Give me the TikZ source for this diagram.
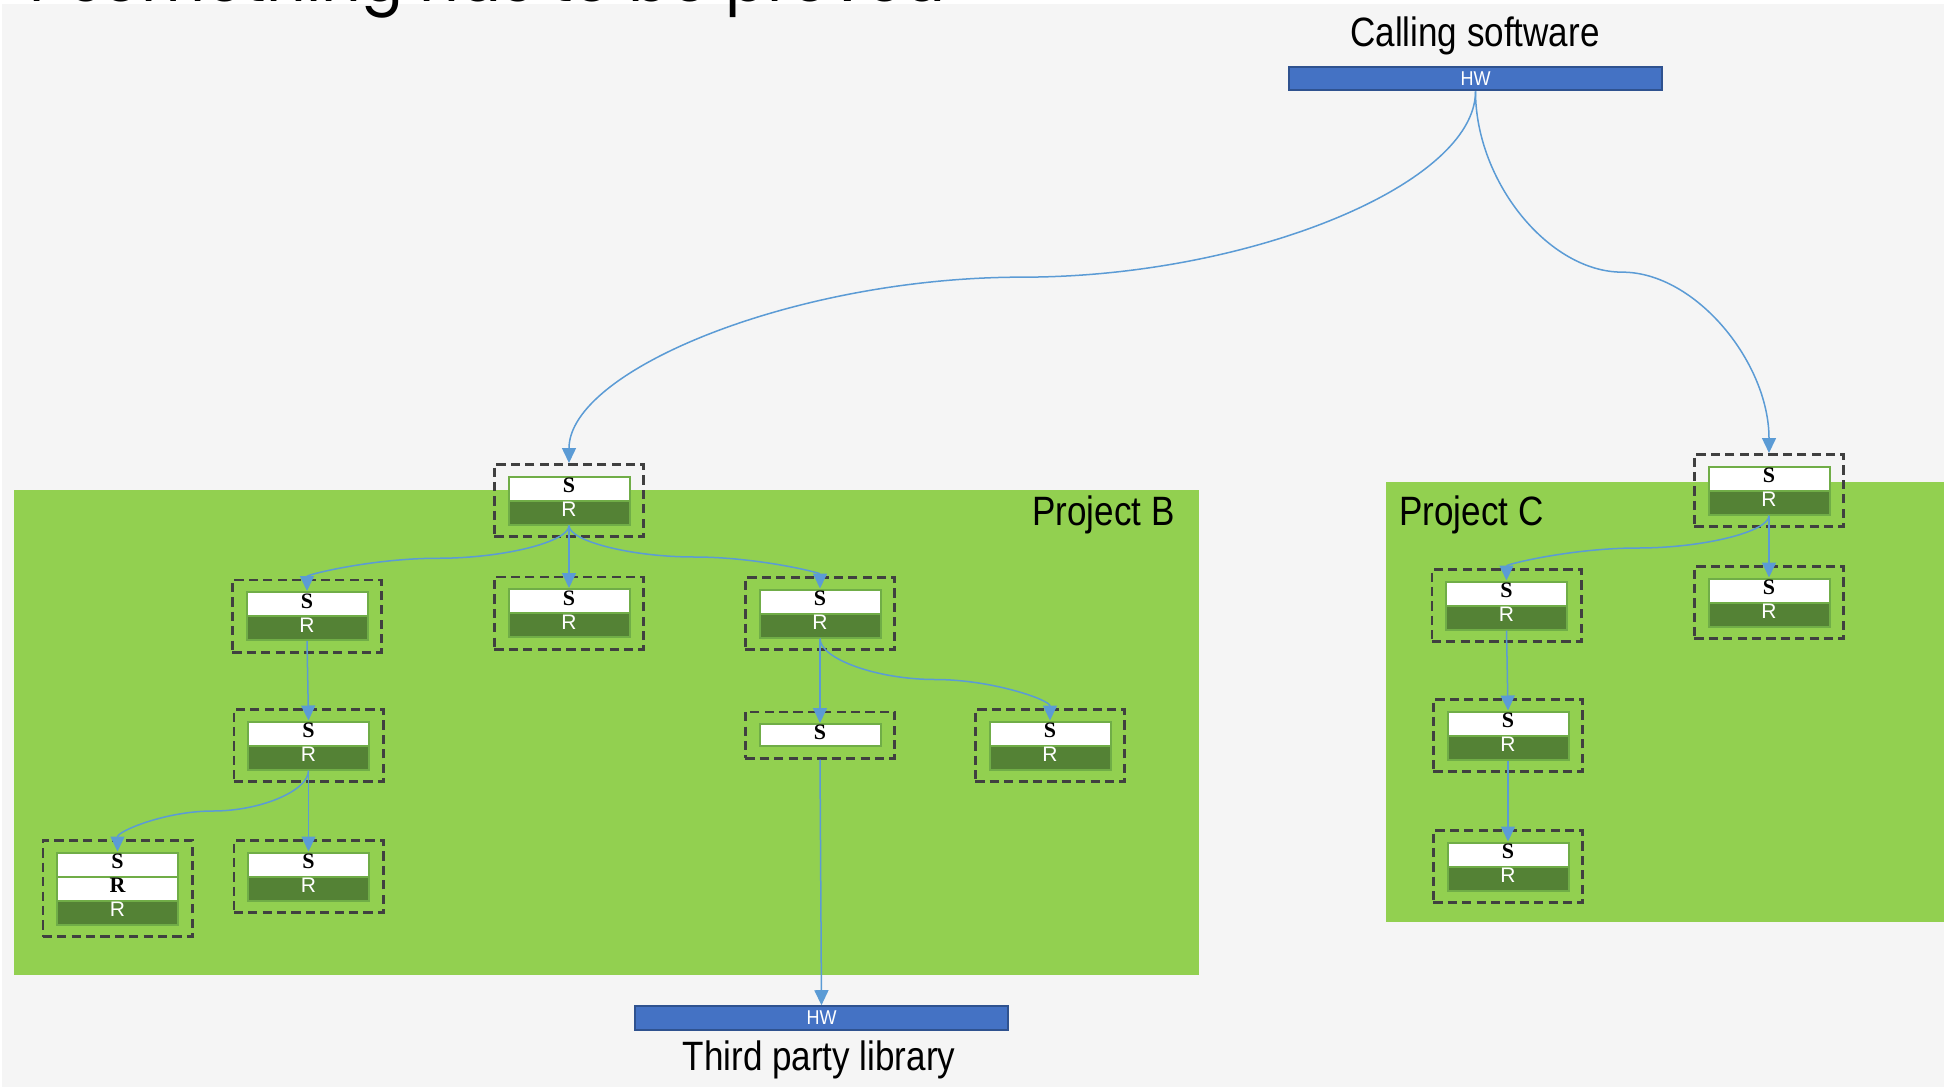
\documentclass[tikz,border=0pt]{standalone}
\usepackage{fontspec}
\usetikzlibrary{shapes.multipart,fit,calc,arrows.meta}

\newfontfamily\labelfont{Liberation Sans}
\newfontfamily\boxserif{Liberation Serif}
\newfontfamily\titlefont{Poppins}

\definecolor{canvasgray}{HTML}{F5F5F5}
\definecolor{projgreen}{HTML}{92D050}
\definecolor{rowgreen}{HTML}{548235}
\definecolor{rimgreen}{HTML}{70AD47}
\definecolor{linkblue}{HTML}{5B9BD5}
\definecolor{hwblue}{HTML}{4472C4}
\definecolor{hwrim}{HTML}{2F528F}
\definecolor{dashgray}{HTML}{404040}

% fixed row height for every row of a unit
\newcommand\rowstrut{\rule[-3.4pt]{0pt}{11pt}}
% row captions
\newcommand\Scap{\rowstrut{\boxserif\bfseries\fontsize{11pt}{11pt}\selectfont S}}
\newcommand\Rdark{\rowstrut{\labelfont\fontsize{10.5pt}{11pt}\selectfont\color{white}R}}
\newcommand\Rlight{\rowstrut{\boxserif\bfseries\fontsize{11pt}{11pt}\selectfont R}}
\newcommand\biglabel[1]{\scalebox{0.855}[1]{\labelfont\fontsize{20.5pt}{24pt}\selectfont #1}}

\tikzset{
  rowbox/.style={rectangle split, rectangle split parts=#1, draw=rimgreen, line width=1pt,
    text width=60.5pt, align=center, inner xsep=0pt, inner ysep=0pt},
  onerow/.style={rectangle, draw=rimgreen, line width=1pt, fill=white,
    text width=60.5pt, align=center, inner xsep=0pt, inner ysep=0pt},
  dashbox/.style={draw=dashgray, line width=1.3pt, dash pattern=on 4.6pt off 2.6pt,
    inner xsep=6.6pt, inner ysep=5.6pt},
  conn/.style={draw=linkblue, line width=0.75pt, -{Triangle[length=7.5pt,width=7pt]}},
  hwbar/.style={draw=hwrim, line width=1pt, fill=hwblue, minimum width=186.5pt,
    minimum height=11.8pt, inner sep=0pt, text=white,
    font=\labelfont\fontsize{10pt}{11pt}\selectfont},
}

% unit: inner row box plus dashed frame named <name>d
\newcommand\srunit[5]{%
  \node[rowbox=#3, rectangle split part fill={#4}] (#1) at (#2) {#5};
  \node[dashbox, fit=(#1)] (#1d) {};}

% curved connector: vertical start, horizontal middle, vertical end
\newcommand\bendcon[2]{%
  \draw[conn] let \p1=(#1), \p2=(#2) in
    (\p1) .. controls (\x1,{\y1+(\y2-\y1)/4}) and ({\x1+(\x2-\x1)/4},{(\y1+\y2)/2})
    .. ({(\x1+\x2)/2},{(\y1+\y2)/2})
    .. controls ({\x1+3*(\x2-\x1)/4},{(\y1+\y2)/2}) and (\x2,{\y1+3*(\y2-\y1)/4})
    .. (\p2);}

\begin{document}
\begin{tikzpicture}[x=0.5pt,y=-0.5pt]
\useasboundingbox (0,0) rectangle (1944,1087);
\fill[white] (0,0) rectangle (1944,1087);
\fill[canvasgray] (2,4) rectangle (1944,1087);

% heading, cut by the page edge
\node[anchor=base east, inner sep=0pt, font=\titlefont\fontsize{31pt}{36pt}\selectfont]
  (title) at (946,1) {r something has to be proved};

% project areas
\fill[projgreen] (14,490) rectangle (1199,975);
\fill[projgreen] (1386,482) rectangle (1944,922);

\node[anchor=base, inner sep=0pt] (projb) at (1103.5,525) {\biglabel{Project B}};
\node[anchor=base, inner sep=0pt] (projc) at (1471.5,525) {\biglabel{Project C}};

% calling software
\node[anchor=base, inner sep=0pt] (calling) at (1475,46) {\biglabel{Calling software}};
\node[hwbar] (hwtop) at (1475.5,78.5) {\scalebox{0.9}[1]{HW}};

% third party library
\node[hwbar] (hwbot) at (821.5,1018) {\scalebox{0.9}[1]{HW}};
\node[anchor=base, inner sep=0pt] (third) at (819,1070) {\biglabel{Third party library}};

% Project B units
\srunit{b1}{569,500.5}{2}{white,rowgreen}{\Scap\nodepart{two}\Rdark}
\srunit{bl}{307,616}{2}{white,rowgreen}{\Scap\nodepart{two}\Rdark}
\srunit{bm}{569,613}{2}{white,rowgreen}{\Scap\nodepart{two}\Rdark}
\srunit{br}{820,613.5}{2}{white,rowgreen}{\Scap\nodepart{two}\Rdark}
\srunit{bl2}{308.5,745.5}{2}{white,rowgreen}{\Scap\nodepart{two}\Rdark}
\node[onerow] (brs) at (820,735) {\Scap};
\node[dashbox, fit=(brs)] (brsd) {};
\srunit{brr}{1050,745.5}{2}{white,rowgreen}{\Scap\nodepart{two}\Rdark}
\srunit{bll}{117.5,888.5}{3}{white,white,rowgreen}{\Scap\nodepart{two}\Rlight\nodepart{three}\Rdark}
\srunit{blr}{308.5,876.5}{2}{white,rowgreen}{\Scap\nodepart{two}\Rdark}

% Project C units
\srunit{ct}{1769,490.5}{2}{white,rowgreen}{\Scap\nodepart{two}\Rdark}
\srunit{cr}{1769,602.5}{2}{white,rowgreen}{\Scap\nodepart{two}\Rdark}
\srunit{cl1}{1506.5,605.5}{2}{white,rowgreen}{\Scap\nodepart{two}\Rdark}
\srunit{cl2}{1508,735.5}{2}{white,rowgreen}{\Scap\nodepart{two}\Rdark}
\srunit{cl3}{1508,866.5}{2}{white,rowgreen}{\Scap\nodepart{two}\Rdark}

% connectors
\bendcon{hwtop.south}{b1d.north}
\bendcon{hwtop.south}{ctd.north}

\bendcon{b1.south}{bl.north}
\draw[conn] (b1.south) -- (bm.north);
\bendcon{b1.south}{br.north}
\draw[conn] (bl.south) -- (bl2.north);
\bendcon{bl2.south}{bll.north}
\draw[conn] (bl2.south) -- (blr.north);
\draw[conn] (br.south) -- (brs.north);
\bendcon{br.south}{brr.north}
\draw[conn] (brsd.south) -- (hwbot.north);

\bendcon{ct.south}{cl1.north}
\draw[conn] (ct.south) -- (cr.north);
\draw[conn] (cl1.south) -- (cl2.north);
\draw[conn] (cl2.south) -- (cl3.north);
\end{tikzpicture}
\end{document}
